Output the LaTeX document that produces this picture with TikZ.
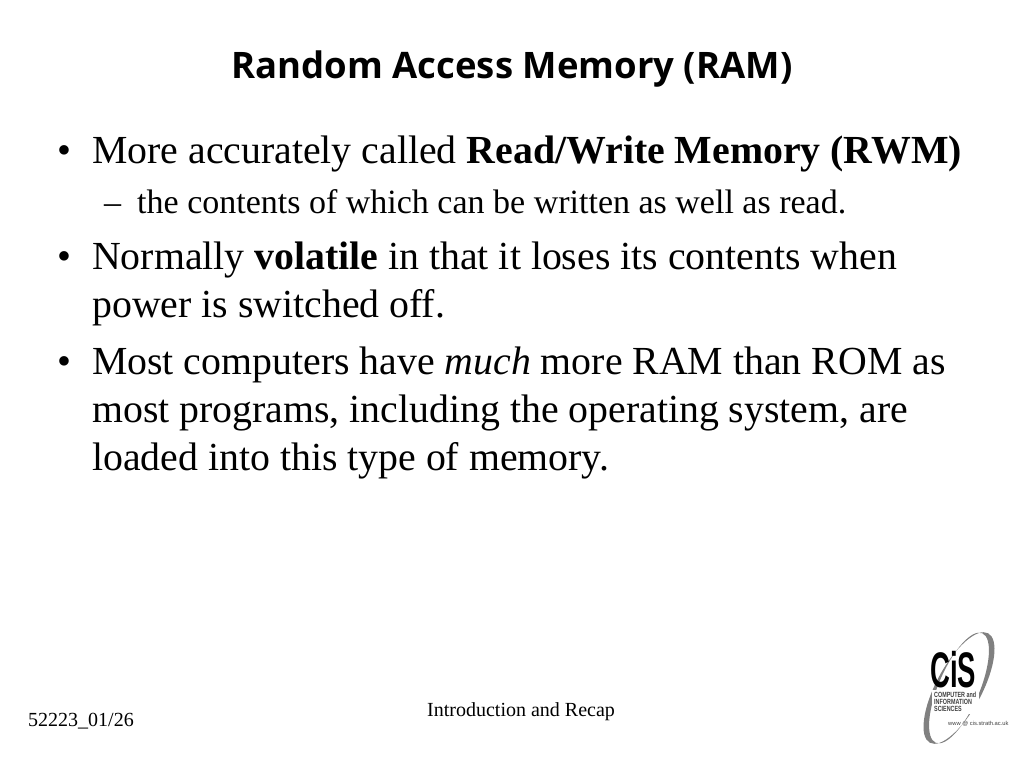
\documentclass[tikz,border=0pt]{standalone}
\usepackage{fontspec}
\setmainfont{Liberation Serif}
\newfontfamily\titlefont{Open Sans}
\newfontfamily\logofont{Liberation Sans}
\tikzset{
  bodytext/.style={anchor=base west,inner sep=0pt,font=\fontsize{39.8}{39.8}\selectfont},
  subtext/.style={anchor=base west,inner sep=0pt,font=\fontsize{34}{34}\selectfont},
  foottext/.style={anchor=base west,inner sep=0pt,font=\fontsize{20}{20}\selectfont},
  logotext/.style={anchor=base west,inner sep=0pt,text=black!75,font=\logofont\bfseries\fontsize{7.5}{7.5}\selectfont}
}
\begin{document}
\begin{tikzpicture}[x=1pt,y=-1pt]
\useasboundingbox (0,0) rectangle (1024,768);
% title
\node[anchor=base,inner sep=0pt,font=\titlefont\bfseries\fontsize{36.5}{36.5}\selectfont] (title) at (512,78.5) {Random Access Memory (RAM)};
% first point
\node[bodytext] (b1) at (57,163) {\textbullet};
\node[bodytext] (l1) at (92,163) {More accurately called \textbf{Read/Write Memory (RWM)}};
\node[subtext] (d1) at (104,213) {--};
\node[subtext] (s1) at (137,213) {the contents of which can be written as well as read.};
% second point
\node[bodytext] (b2) at (57,269) {\textbullet};
\node[bodytext] (l2) at (92,269) {Normally \textbf{volatile} in that it loses its contents when};
\node[bodytext] (l3) at (92,317) {power is switched off.};
% third point
\node[bodytext] (b3) at (57,374) {\textbullet};
\node[bodytext] (l4) at (92,374) {Most computers have \textit{much} more RAM than ROM as};
\node[bodytext] (l5) at (92,422) {most programs, including the operating system, are};
\node[bodytext] (l6) at (92,470) {loaded into this type of memory.};
% footer
\node[foottext] (num) at (28,726) {52223\_01/26};
\node[foottext] (topic) at (427,716) {Introduction and Recap};
% logo
\fill[black!50,even odd rule]
  (959,688) ellipse [x radius=62,y radius=23,rotate=62]
  (959,688) ellipse [x radius=59.5,y radius=20.5,rotate=67];
\fill[white] (947,750) -- (1000,750) -- (1000,708) -- (976,708) -- cycle;
\fill[white] (932,690) rectangle (979,714);
\node[anchor=base west,inner sep=0pt,font=\logofont\bfseries\fontsize{50}{50}\selectfont] (cis) at (930,687) {\scalebox{.55}[1]{CiS}};
\node[logotext] (logoa) at (934,697) {\scalebox{.72}[1]{COMPUTER and}};
\node[logotext] (logob) at (934,704) {\scalebox{.72}[1]{INFORMATION}};
\node[logotext] (logoc) at (934,711) {\scalebox{.72}[1]{SCIENCES}};
\node[logotext,font=\logofont\fontsize{5.8}{5.8}\selectfont] (logod) at (948,725) {www @ cis.strath.ac.uk};
\end{tikzpicture}
\end{document}
